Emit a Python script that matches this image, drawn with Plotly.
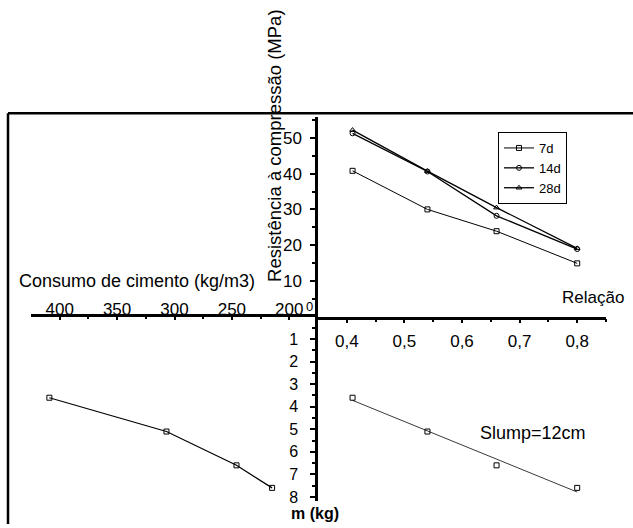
import numpy as np
import plotly.graph_objects as go

# ---------------- data ----------------
wc = [0.41, 0.54, 0.66, 0.80]                 # Relação a/c
res_7d = [40.8, 30.0, 23.9, 14.9]             # MPa
res_14d = [51.3, 40.6, 28.2, 18.9]
res_28d = [52.2, 40.7, 30.5, 19.1]
m_kg = [3.6, 5.1, 6.6, 7.6]                   # m (kg)
consumo = [409, 307, 246, 215]                # kg/m3

wc_ticks = [0.4, 0.5, 0.6, 0.7, 0.8]
wc_ticktext = ["0,4", "0,5", "0,6", "0,7", "0,8"]
res_ticks = [10, 20, 30, 40, 50]
m_ticks = [1, 2, 3, 4, 5, 6, 7, 8]
cons_ticks = [200, 250, 300, 350, 400]

# ---------------- layout helpers ----------------
W, H = 633, 528
def fx(p):
    return p / W
def fy(p):
    return 1 - p / H

FONT = "Arial, Liberation Sans, sans-serif"
BLACK = "#000000"

fig = go.Figure()

sym = {"7d": "square-open", "14d": "circle-open", "28d": "triangle-up-open"}
for name, vals, lw in [("7d", res_7d, 1), ("14d", res_14d, 1.3), ("28d", res_28d, 1.3)]:
    fig.add_trace(go.Scatter(
        x=wc, y=vals, name=name, mode="lines+markers",
        line=dict(color=BLACK, width=lw),
        marker=dict(symbol=sym[name], size=5, color=BLACK, line=dict(width=1, color=BLACK)),
        xaxis="x", yaxis="y"))

# lower right: m vs a/c with linear fit
coef = np.polyfit(wc, m_kg, 1)
fit_x = [min(wc), max(wc)]
fit_y = list(np.polyval(coef, fit_x))
fig.add_trace(go.Scatter(x=fit_x, y=fit_y, mode="lines", showlegend=False,
                         line=dict(color="#222222", width=0.9), xaxis="x2", yaxis="y2"))
fig.add_trace(go.Scatter(x=wc, y=m_kg, mode="markers", showlegend=False,
                         marker=dict(symbol="square-open", size=5, color=BLACK, line=dict(width=1)),
                         xaxis="x2", yaxis="y2"))

# lower left: m vs consumo
fig.add_trace(go.Scatter(x=consumo, y=m_kg, mode="lines+markers", showlegend=False,
                         line=dict(color=BLACK, width=1.2),
                         marker=dict(symbol="square-open", size=5, color=BLACK, line=dict(width=1)),
                         xaxis="x3", yaxis="y3"))

tickfont = dict(family=FONT, size=17, color=BLACK)
common = dict(showgrid=False, zeroline=False, showline=True, linecolor=BLACK,
              linewidth=2.5, tickcolor=BLACK, tickwidth=2, tickfont=tickfont, mirror=False)

m_range = [8.19, 0]
wc_range = [0.35, 0.85]
xdom = [fx(318), fx(606)]
mdom = [fy(505), fy(319)]

m_common = dict(common)
m_common["tickfont"] = dict(family=FONT, size=16, color=BLACK)

fig.update_layout(
    width=W, height=H, autosize=False,
    margin=dict(l=0, r=0, t=0, b=0),
    paper_bgcolor="white", plot_bgcolor="rgba(0,0,0,0)",
    font=dict(family=FONT, color=BLACK),
    xaxis=dict(domain=xdom, range=wc_range, anchor="y", side="bottom",
               tickvals=wc_ticks, ticktext=wc_ticktext, ticks="outside", ticklen=4,
               ticklabelstandoff=3,
               minor=dict(tickvals=[0.45, 0.55, 0.65, 0.75, 0.85], ticks="outside",
                          ticklen=3, tickwidth=2, tickcolor=BLACK),
               **common),
    yaxis=dict(domain=[fy(319), fy(117.4)], range=[0, 56], anchor="x", side="left",
               tickvals=res_ticks, ticks="outside", ticklen=5, ticklabelstandoff=5,
               minor=dict(tickvals=[5, 15, 25, 35, 45, 55], ticks="outside",
                          ticklen=3, tickwidth=2, tickcolor=BLACK),
               **common),
    xaxis2=dict(domain=xdom, range=wc_range, anchor="y2", visible=False),
    yaxis2=dict(domain=mdom, range=m_range, anchor="x2", side="left",
                tickvals=m_ticks, ticks="outside", ticklen=5, ticklabelstandoff=9,
                minor=dict(tickvals=[0.5, 1.5, 2.5, 3.5, 4.5, 5.5, 6.5, 7.5], ticks="outside",
                           ticklen=3, tickwidth=2, tickcolor=BLACK),
                **m_common),
    xaxis3=dict(domain=[fx(31), fx(318)], range=[425, 175], anchor="y3", side="top",
                tickvals=cons_ticks, ticks="inside", ticklen=4, ticklabelstandoff=-8,
                minor=dict(tickvals=[225, 275, 325, 375, 425], ticks="inside",
                           ticklen=3, tickwidth=2, tickcolor=BLACK),
                **common),
    yaxis3=dict(domain=mdom, range=m_range, anchor="x3", visible=False),
    legend=dict(x=fx(498), y=fy(133), xanchor="left", yanchor="top",
                bordercolor=BLACK, borderwidth=1, bgcolor="white",
                font=dict(family=FONT, size=13, color=BLACK),
                itemwidth=30, tracegroupgap=0),
    showlegend=True,
)

# frame lines (top and left)
fig.add_shape(type="line", xref="paper", yref="paper", x0=fx(8), y0=fy(114), x1=fx(633), y1=fy(114),
              line=dict(color=BLACK, width=2.5))
fig.add_shape(type="line", xref="paper", yref="paper", x0=fx(8), y0=fy(114), x1=fx(8), y1=0,
              line=dict(color=BLACK, width=2.5))

def note(text, x, y, size=17, angle=0, bold=False, yanchor="middle"):
    fig.add_annotation(text=("<b>%s</b>" % text) if bold else text, xref="paper", yref="paper",
                       x=fx(x), y=fy(y), showarrow=False, textangle=angle,
                       font=dict(family=FONT, size=size, color=BLACK),
                       xanchor="center", yanchor=yanchor)

note("Consumo de cimento (kg/m3)", 137, 283, size=18)
note("Resistência à compressão (MPa)", 275, 147, size=18.5, angle=-90)
note("Relação", 593, 300, size=17)
note("Slump=12cm", 533, 436, size=18)
note("m (kg)", 315, 528, size=16, bold=True, yanchor="bottom")
note("0", 309.5, 309, size=13)

fig.write_html("out.html", config={"displayModeBar": False},
               post_script="document.body.style.margin='0px';")
